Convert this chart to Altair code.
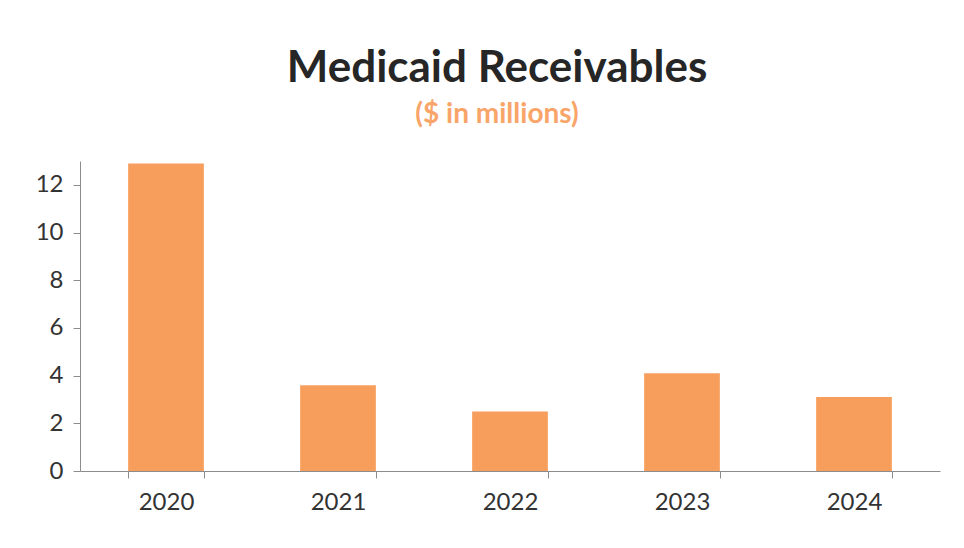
import altair as alt
import pandas as pd

years = ["2020", "2021", "2022", "2023", "2024"]
receivables = [12.9, 3.6, 2.5, 4.1, 3.1]
y_ticks = [0, 2, 4, 6, 8, 10, 12]

df = pd.DataFrame({"Year": years, "Receivables": receivables})

FONT = "Lato"

chart = (
    alt.Chart(df)
    .mark_bar(color="#F89E5C")
    .encode(
        x=alt.X(
            "Year:N",
            sort=years,
            title=None,
            scale=alt.Scale(paddingInner=0.56, paddingOuter=0.28),
            axis=alt.Axis(
                labelAngle=0,
                tickBand="extent",
                tickSize=7,
                tickColor="#8c8c8c",
                domainColor="#8c8c8c",
                labelFontSize=24,
                labelColor="#333333",
                labelFont=FONT,
                labelPadding=12,
            ),
        ),
        y=alt.Y(
            "Receivables:Q",
            title=None,
            scale=alt.Scale(domain=[0, 13], nice=False),
            axis=alt.Axis(
                values=y_ticks,
                grid=False,
                tickSize=7,
                tickColor="#8c8c8c",
                domainColor="#8c8c8c",
                labelFontSize=24,
                labelColor="#333333",
                labelFont=FONT,
                labelPadding=10,
            ),
        ),
    )
    .properties(
        width=860,
        height=310,
        background="white",
        title=alt.TitleParams(
            text="Medicaid Receivables",
            subtitle="($ in millions)",
            font=FONT,
            fontSize=44,
            fontWeight="bold",
            color="#262626",
            subtitleFont=FONT,
            subtitleFontSize=28,
            subtitleFontWeight="bold",
            subtitleColor="#F9A56A",
            subtitlePadding=10,
            anchor="middle",
            offset=32,
            dx=-13,
        ),
        autosize=alt.AutoSizeParams(type="none"),
        padding={"left": 80, "top": 161, "right": 24, "bottom": 77},
    )
    .configure_view(strokeWidth=0, stroke="transparent")
)

chart.save("out.html", embed_options={"renderer": "svg", "actions": False})
